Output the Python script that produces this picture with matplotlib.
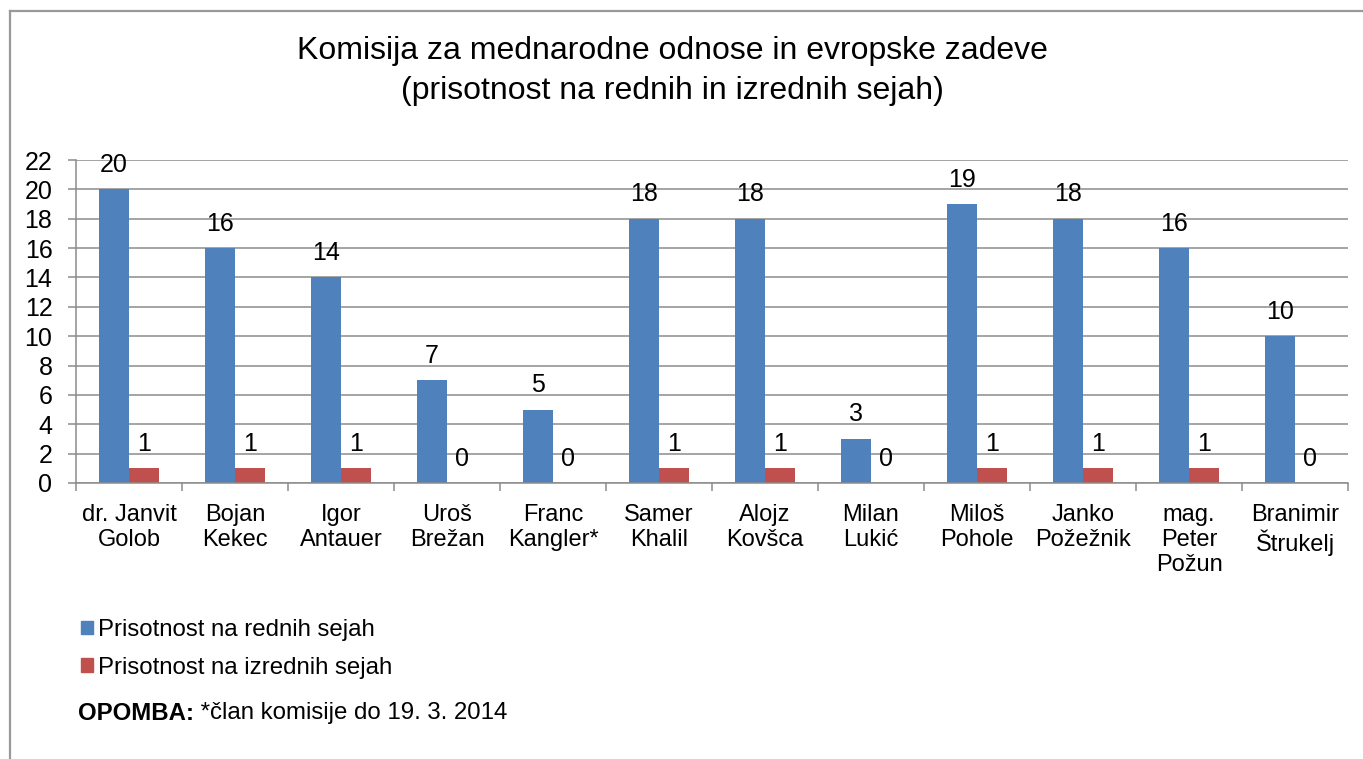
import numpy as np
import matplotlib
matplotlib.use("Agg")
import matplotlib.pyplot as plt
from matplotlib.patches import Patch
from matplotlib.lines import Line2D

plt.rcParams['font.family'] = ['Liberation Sans', 'DejaVu Sans']

# data
names = ["dr. Janvit\nGolob", "Bojan\nKekec", "Igor\nAntauer", "Uroš\nBrežan",
         "Franc\nKangler*", "Samer\nKhalil", "Alojz\nKovšca", "Milan\nLukić",
         "Miloš\nPohole", "Janko\nPožežnik", "mag.\nPeter\nPožun",
         "Branimir\nŠtrukelj"]
redne = [20, 16, 14, 7, 5, 18, 18, 3, 19, 18, 16, 10]
izredne = [1, 1, 1, 0, 0, 1, 1, 0, 1, 1, 1, 0]
series_labels = ["Prisotnost na rednih sejah", "Prisotnost na izrednih sejah"]
title = "Komisija za mednarodne odnose in evropske zadeve\n(prisotnost na rednih in izrednih sejah)"
note_bold = "OPOMBA:"
note_text = " *član komisije do 19. 3. 2014"

blue = "#4F81BD"
red = "#C0504D"
grey = "#8C8C8C"

W, H = 1363, 759
fig = plt.figure(figsize=(W / 100, H / 100), dpi=100)
ax = fig.add_axes([76 / W, 1 - 483 / H, (1348 - 76) / W, (483 - 160) / H])

x = np.arange(len(names))
bw = 0.283
b1 = ax.bar(x - bw / 2, redne, bw, color=blue, label=series_labels[0])
b2 = ax.bar(x + bw / 2, izredne, bw, color=red, label=series_labels[1])

for bars in (b1, b2):
    for r in bars:
        ax.annotate(str(int(r.get_height())),
                    (r.get_x() + r.get_width() / 2, r.get_height()),
                    xytext=(0, 9), textcoords="offset points",
                    ha="center", va="bottom", fontsize=18)

ax.set_xlim(-0.5, len(names) - 0.5)
ax.set_ylim(0, 22)
ax.set_yticks(range(0, 23, 2))
ax.yaxis.grid(True, color=grey, linewidth=1.1)
ax.set_axisbelow(True)

ax.set_xticks(x)
ax.set_xticklabels(names, fontsize=17, linespacing=1.17)
ax.set_xticks(np.arange(-0.5, len(names)), minor=True)
ax.tick_params(axis="x", which="major", length=0, pad=15)
ax.tick_params(axis="x", which="minor", length=6, width=1.1, color=grey)
ax.tick_params(axis="y", length=6, width=1.1, color=grey, labelsize=18, pad=11)

for s in ("top", "right"):
    ax.spines[s].set_visible(False)
for s in ("left", "bottom"):
    ax.spines[s].set_color(grey)
    ax.spines[s].set_linewidth(1.1)

fig.text(672 / W, 1 - 71 / H, title, ha="center", va="center", fontsize=23,
         linespacing=1.45)

handles = [Patch(color=blue), Patch(color=red)]
fig.legend(handles, series_labels, loc="upper left",
           bbox_to_anchor=(81 / W, 1 - 619 / H), frameon=False,
           fontsize=17.3, handlelength=0.5, handleheight=0.5,
           handletextpad=0.2, labelspacing=0.65, borderpad=0,
           borderaxespad=0)

t1 = fig.text(78 / W, 1 - 713 / H, note_bold, fontsize=17.3, fontweight="bold",
              va="center", ha="left")
fig.canvas.draw()
bb = t1.get_window_extent()
fig.text(bb.x1 / W, 1 - 713 / H, note_text, fontsize=17.3,
         va="center", ha="left")

# chart border
fig.add_artist(Line2D([10 / W, 10 / W], [0, 1 - 11 / H], color="#999999",
                      linewidth=1.6, transform=fig.transFigure))
fig.add_artist(Line2D([10 / W, 1], [1 - 11 / H, 1 - 11 / H], color="#999999",
                      linewidth=1.6, transform=fig.transFigure))

fig.savefig("out.png", dpi=100)
